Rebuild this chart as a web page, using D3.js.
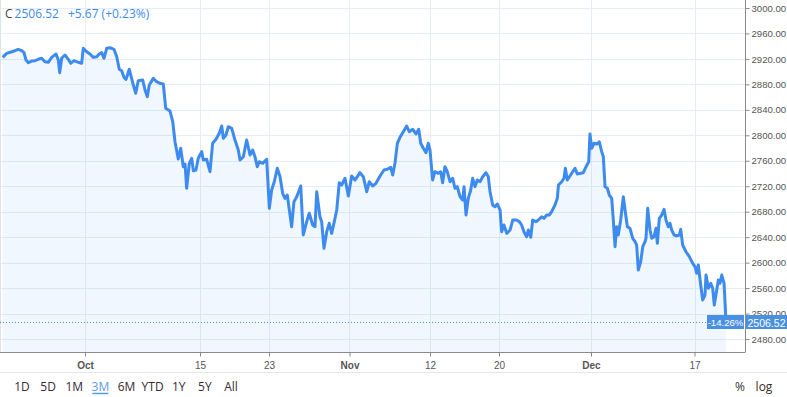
<!DOCTYPE html>
<html>
<head>
<meta charset="utf-8">
<script src="https://cdn.jsdelivr.net/npm/d3@7"></script>
<style>
  body { margin: 0; background: #fff; }
  svg { display: block; font-family: "Liberation Sans", Arial, sans-serif; }
</style>
</head>
<body>
<svg id="chart" width="787" height="397"></svg>
<script>
// trading-day position (0 = Oct 1) and price
const days = [-7.16,-6.81,-6.37,-6.09,-5.80,-5.50,-5.30,-5.13,-4.93,-4.63,-4.35,-4.06,-3.77,-3.48,-3.19,-2.90,-2.52,-2.32,-2.20,-2.03,
  -1.74,-1.45,-1.24,-0.96,-0.58,-0.29,-0.15,0.15,0.43,0.72,1.02,1.24,1.45,1.65,1.89,2.17,2.52,2.76,2.98,3.19,
  3.39,3.57,3.85,4.15,4.41,4.63,5.02,5.22,5.42,5.59,5.94,6.23,6.52,6.81,7.02,7.39,7.63,7.83,8.11,8.32,
  8.55,8.70,8.84,9.07,9.28,9.42,9.65,9.85,10.15,10.29,10.58,10.87,11.10,11.39,11.68,11.89,12.03,12.26,12.46,12.76,
  13.04,13.33,13.48,13.77,14.06,14.35,14.58,14.78,14.98,15.16,15.45,15.80,16.03,16.23,16.46,16.72,16.96,17.19,17.39,17.59,
  17.77,17.97,18.17,18.41,18.76,18.98,19.28,19.50,19.80,20.00,20.15,20.43,20.58,20.78,21.02,21.24,21.45,21.65,21.89,22.11,
  22.32,22.61,22.90,23.19,23.48,23.68,23.91,24.20,24.50,24.72,25.02,25.30,25.50,25.71,26.00,26.29,26.58,26.76,26.96,27.16,
  27.39,27.68,27.97,28.20,28.50,28.78,29.02,29.19,29.42,29.65,29.85,30.00,30.23,30.43,30.72,30.93,31.10,31.30,31.50,31.74,
  31.97,32.17,32.37,32.61,32.84,32.96,33.13,33.33,33.54,33.71,33.91,34.11,34.35,34.58,34.87,35.07,35.22,35.45,35.65,35.85,
  36.09,36.23,36.43,36.67,36.96,37.19,37.54,37.77,37.97,38.17,38.41,38.55,38.76,38.93,39.22,39.42,39.71,39.91,40.15,40.37,
  40.58,40.87,41.07,41.17,41.45,41.65,41.77,41.94,42.17,42.41,42.61,42.81,43.10,43.33,43.57,43.80,43.91,44.06,44.26,44.50,
  44.72,44.93,45.07,45.22,45.42,45.59,45.80,45.94,46.09,46.23,46.37,46.58,46.81,46.96,47.16,47.39,47.63,47.83,47.97,48.11,
  48.32,48.50,48.70,48.78,48.93,49.13,49.28,49.48,49.65,49.77,49.94,50.15,50.35,50.52,50.72,50.87,51.02,51.22,51.45,51.68,
  51.80,51.97,52.26,52.55,52.84,53.04,53.19,53.33,53.54,53.71,53.91,54.00,54.20,54.41,54.58,54.72,54.93,55.07,55.22,55.37,
  55.57,55.74];
const prices = [2922.5,2928.8,2931.3,2932.9,2935.1,2932.9,2929.8,2918.3,2914.1,2916.7,2917.2,2919.4,2921.0,2915.6,2914.7,2922.5,2927.7,2918.3,2898.4,2921.0,
  2926.2,2919.4,2913.1,2917.2,2914.7,2913.1,2936.7,2931.3,2927.7,2922.5,2923.5,2927.7,2929.8,2921.0,2936.7,2937.6,2935.1,2923.5,2903.7,2901.5,
  2891.1,2888.0,2903.7,2882.6,2866.0,2885.8,2886.9,2871.2,2860.7,2879.0,2889.6,2884.2,2881.7,2880.6,2842.4,2838.2,2821.4,2789.5,2762.8,2779.6,
  2750.7,2754.9,2716.8,2756.0,2763.9,2744.4,2745.5,2763.9,2774.3,2761.2,2762.3,2742.8,2787.4,2793.7,2803.2,2814.6,2795.3,2800.5,2813.5,2811.0,
  2792.6,2776.9,2761.2,2766.4,2792.6,2769.1,2776.9,2766.4,2750.7,2758.5,2756.0,2762.3,2685.3,2714.1,2727.1,2748.2,2735.0,2708.9,2701.0,2706.2,
  2682.7,2656.4,2695.7,2703.6,2720.4,2643.4,2664.3,2677.5,2659.1,2656.4,2711.4,2672.1,2664.3,2622.5,2648.6,2661.8,2646.0,2661.8,2682.7,2725.6,
  2721.9,2732.5,2704.7,2736.1,2729.8,2735.0,2741.3,2735.0,2711.4,2727.1,2720.4,2724.6,2730.9,2737.6,2745.5,2746.6,2749.7,2737.6,2757.0,2787.4,
  2796.9,2805.7,2814.6,2805.7,2809.4,2802.1,2809.4,2787.4,2779.6,2772.7,2787.4,2776.9,2729.8,2742.8,2740.3,2742.8,2725.6,2750.7,2742.8,2727.1,
  2732.5,2716.8,2719.3,2703.6,2698.4,2719.3,2674.8,2701.0,2714.1,2732.5,2719.3,2729.8,2727.1,2735.0,2741.3,2735.0,2711.4,2690.5,2687.8,2692.1,
  2682.7,2648.6,2659.1,2646.0,2651.2,2666.9,2666.9,2664.3,2659.1,2648.6,2640.7,2651.2,2639.8,2666.9,2664.3,2666.9,2672.1,2669.6,2674.8,2674.8,
  2680.0,2690.5,2701.0,2721.9,2727.1,2732.5,2748.2,2729.8,2736.1,2742.8,2748.2,2739.2,2740.3,2741.3,2750.7,2758.5,2802.1,2779.6,2787.4,2786.3,
  2789.9,2774.3,2766.4,2719.3,2716.8,2706.2,2701.0,2666.9,2625.0,2656.4,2643.4,2666.9,2703.6,2682.7,2656.4,2653.9,2638.2,2632.9,2627.7,2588.4,
  2601.4,2625.0,2632.9,2638.2,2685.3,2651.2,2638.2,2640.7,2653.9,2630.3,2669.6,2674.8,2683.8,2666.9,2656.4,2661.8,2651.2,2643.4,2641.9,2643.4,
  2652.3,2627.7,2617.1,2609.3,2598.9,2593.6,2583.2,2596.3,2564.8,2541.3,2549.1,2580.5,2559.7,2567.5,2559.7,2533.4,2557.0,2572.7,2567.5,2580.5,
  2567.5,2506.52];

const priceTicks = [2480,2520,2560,2600,2640,2680,2720,2760,2800,2840,2880,2920,2960,3000];
const dateTickDays = [0,10,16,23,30,36,44,53];
const dateTickLabels = ["Oct","15","23","Nov","12","20","Dec","17"];
const monthLabels = ["Oct","Nov","Dec"];
const rangeButtons = ["1D","5D","1M","3M","6M","YTD","1Y","5Y","All"];
const activeRange = "3M";
const lastPrice = 2506.52;
const change = 5.67, changePct = 0.23, periodPct = -14.26;

const W = 787, plotR = 745, plotB = 352;
const blue = "#3d8bef";
const svg = d3.select("#chart");

const x = d3.scaleLinear().domain([-7.39, 57.39]).range([0, plotR]);
const y = d3.scaleLinear().domain([2480, 3000]).range([339, 8]);
const data = days.map((d, i) => ({t: d, v: prices[i]}));

// grid
svg.append("g").selectAll("line").data(priceTicks).enter().append("line")
  .attr("x1", 0).attr("x2", plotR)
  .attr("y1", d => Math.round(y(d)) + 0.5).attr("y2", d => Math.round(y(d)) + 0.5)
  .attr("stroke", "#e6edf4");
svg.append("g").selectAll("line").data(dateTickDays).enter().append("line")
  .attr("x1", d => Math.round(x(d)) + 0.5).attr("x2", d => Math.round(x(d)) + 0.5)
  .attr("y1", 0).attr("y2", plotB)
  .attr("stroke", "#e6edf4");
svg.append("line").attr("x1", 0.5).attr("x2", 0.5).attr("y1", 0).attr("y2", plotB).attr("stroke", "#dde3ea");

// area + line
svg.append("path").datum(data)
  .attr("d", d3.area().x(d => x(d.t)).y0(plotB).y1(d => y(d.v)))
  .attr("fill", "rgba(61,139,239,0.07)");
svg.append("path").datum(data)
  .attr("d", d3.line().x(d => x(d.t)).y(d => y(d.v)))
  .attr("fill", "none").attr("stroke", blue).attr("stroke-width", 3)
  .attr("stroke-linejoin", "round");

// last price dotted line
const ly = Math.round(y(lastPrice)) + 0.5;
svg.append("line").attr("x1", 0).attr("x2", 707).attr("y1", ly).attr("y2", ly)
  .attr("stroke", "#4a90e2").attr("stroke-dasharray", "1,2");

// right axis
const yAxis = svg.append("g").attr("transform", `translate(${plotR + 0.5},0)`)
  .call(d3.axisRight(y).tickValues(priceTicks).tickFormat(d3.format(".2f")).tickSize(4).tickPadding(2));
yAxis.select(".domain").attr("d", `M0,0V${plotB}`).attr("stroke", "#8a8a8a");
yAxis.selectAll(".tick line").attr("stroke", "#8a8a8a");
yAxis.selectAll("text").attr("fill", "#555").attr("font-size", 9.6)
  .attr("font-family", "\"Liberation Sans\", Arial, sans-serif");

// bottom axis
const xAxis = svg.append("g").attr("transform", `translate(0,${plotB + 0.5})`)
  .call(d3.axisBottom(x).tickValues(dateTickDays).tickFormat((d, i) => dateTickLabels[i]).tickSize(4).tickPadding(5));
xAxis.select(".domain").attr("d", `M0,0H${plotR + 0.5}`).attr("stroke", "#8a8a8a");
xAxis.selectAll(".tick line").attr("stroke", "#8a8a8a");
xAxis.selectAll("text").attr("fill", "#555").attr("font-size", 10)
  .attr("font-family", "\"Liberation Sans\", Arial, sans-serif")
  .attr("font-weight", (d, i) => monthLabels.includes(dateTickLabels[i]) ? "bold" : "normal");

// price labels
svg.append("rect").attr("x", 707).attr("y", ly - 7.5).attr("width", 37).attr("height", 14).attr("fill", "#4a90e2");
svg.append("text").attr("x", 725.5).attr("y", ly + 3.5).attr("text-anchor", "middle")
  .attr("fill", "#fff").attr("font-size", 9.6).text(`${periodPct.toFixed(2)}%`);
svg.append("rect").attr("x", 746).attr("y", ly - 7.5).attr("width", 41).attr("height", 14).attr("fill", "#4a90e2");
svg.append("text").attr("x", 766.5).attr("y", ly + 4).attr("text-anchor", "middle")
  .attr("fill", "#fff").attr("font-size", 10.5).text(lastPrice.toFixed(2));

// header
const head = svg.append("text").attr("x", 5).attr("y", 18).attr("font-size", 12)
  .attr("font-family", "\"Open Sans\", Arial, sans-serif");
head.append("tspan").attr("fill", "#444").text("C");
head.append("tspan").attr("fill", blue).attr("dx", 2).text(lastPrice.toFixed(2));
head.append("tspan").attr("fill", blue).attr("dx", 9)
  .text(`+${change.toFixed(2)} (+${changePct.toFixed(2)}%)`);

// toolbar
svg.append("line").attr("x1", 0).attr("x2", W).attr("y1", 372.5).attr("y2", 372.5).attr("stroke", "#e3e6ea");
const bx = d3.scalePoint().domain(rangeButtons).range([22, 231]);
svg.append("g").selectAll("text").data(rangeButtons).enter().append("text")
  .attr("x", d => bx(d)).attr("y", 391).attr("text-anchor", "middle")
  .attr("font-size", 12).attr("font-family", "\"Open Sans\", Arial, sans-serif")
  .attr("fill", d => d === activeRange ? "#5b9be6" : "#3a2a33").text(d => d);
svg.append("line").attr("x1", bx(activeRange) - 8).attr("x2", bx(activeRange) + 8)
  .attr("y1", 393.5).attr("y2", 393.5).attr("stroke", "#5b9be6").attr("stroke-width", 1.5);
svg.append("text").attr("x", 740).attr("y", 391).attr("text-anchor", "middle").attr("font-size", 12)
  .attr("font-family", "\"Open Sans\", Arial, sans-serif").attr("fill", "#333").text("%");
svg.append("text").attr("x", 764).attr("y", 391).attr("text-anchor", "middle").attr("font-size", 12)
  .attr("font-family", "\"Open Sans\", Arial, sans-serif").attr("fill", "#3a2a1a").text("log");
</script>
</body>
</html>
